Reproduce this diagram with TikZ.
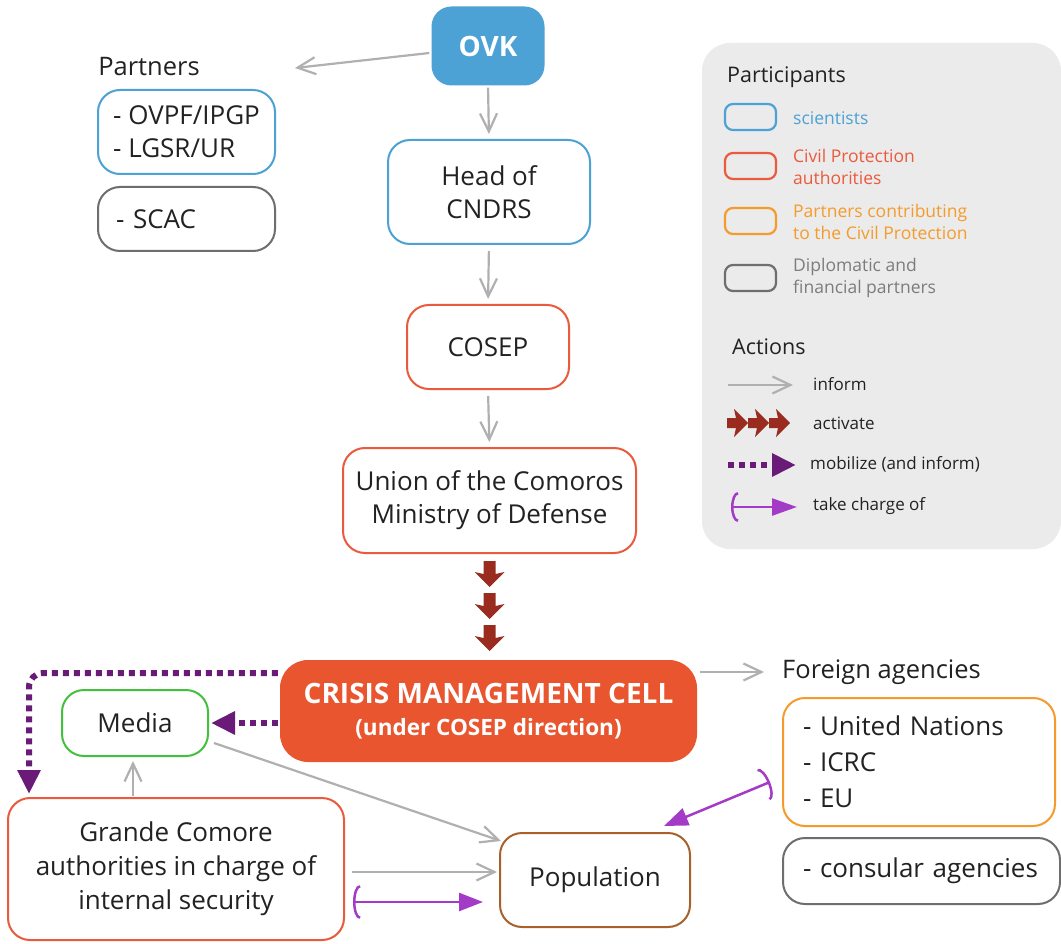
\documentclass[tikz,border=0pt]{standalone}
\usepackage{fontspec}
\setmainfont{Open Sans}
\usetikzlibrary{arrows.meta,calc}
\definecolor{cblue}{HTML}{4CA1D5}
\definecolor{cred}{HTML}{EA5A3C}
\definecolor{ccell}{HTML}{E8552F}
\definecolor{corange}{HTML}{F59B2B}
\definecolor{cgraybox}{HTML}{6E6E6E}
\definecolor{cgreen}{HTML}{44C040}
\definecolor{cbrown}{HTML}{A8612A}
\definecolor{cmob}{HTML}{6A1B77}
\definecolor{ctake}{HTML}{A43BC6}
\definecolor{cact}{HTML}{9A2B1F}
\definecolor{cinform}{HTML}{B0B0B0}
\definecolor{clegend}{HTML}{EBEBEB}
\definecolor{ctext}{HTML}{222222}
\newcommand{\fsz}[2]{\fontsize{#1}{#2}\selectfont}
\begin{document}
\begin{tikzpicture}[x=1pt,y=-1pt,
  box/.style={draw, line width=2pt, rounded corners=22pt, fill=white,
    align=center, inner sep=0pt, text=ctext, font=\fsz{26}{33}},
  listbox/.style={box, align=left, inner xsep=18pt, inner ysep=0pt},
  lgbox/.style={draw, line width=2.2pt, rounded corners=8pt,
    minimum width=51pt, minimum height=26pt, inner sep=0pt},
  lgtext/.style={anchor=west, align=left, font=\fsz{17.5}{22}, inner sep=0pt},
  acttext/.style={anchor=west, inner sep=0pt, text=ctext, font=\fsz{17}{20}},
  title/.style={anchor=west, inner sep=0pt, text=ctext},
  inform/.style={draw=cinform, line width=2.2pt,
    -{Straight Barb[length=18pt,width=17pt]}},
  mobilize/.style={draw=cmob, line width=6pt, dash pattern=on 6pt off 5pt,
    -{Triangle[length=24pt,width=22pt]}},
  takecharge/.style={draw=ctake, line width=2.5pt,
    {Arc Barb[length=7pt,width=34pt]}-{Triangle[length=24pt,width=18pt]}},
  actdown/.pic={\fill[cact] (-6,0)--(6,0)--(6,13)--(15,11)--(0,26)--(-15,11)--(-6,13)--cycle;},
  actright/.pic={\fill[cact] (0,-5)--(9,-5)--(7,-14)--(21,0)--(7,14)--(9,5)--(0,5)--cycle;}
]
\useasboundingbox (0,0) rectangle (1061,944);
\fill[white] (0,0) rectangle (1061,944);

% legend panel
\fill[clegend, rounded corners=28pt] (702,43) rectangle (1061,549);
\node[title, font=\fsz{21.5}{24}] (lgpart) at (727,77) {Participants};
\node[lgbox, draw=cblue]    (lgb1) at (750.5,117) {};
\node[lgbox, draw=cred]     (lgb2) at (750.5,166) {};
\node[lgbox, draw=corange]  (lgb3) at (750.5,221) {};
\node[lgbox, draw=cgraybox] (lgb4) at (750.5,278) {};
\node[lgtext, text=cblue]    (lgt1) at (793,118) {scientists};
\node[lgtext, text=cred]     (lgt2) at (793,166.5) {Civil Protection\\authorities};
\node[lgtext, text=corange]  (lgt3) at (793,222) {Partners contributing\\to the Civil Protection};
\node[lgtext, text=cgraybox!90] (lgt4) at (793,278) {Diplomatic and\\financial partners};
\node[title, font=\fsz{21.5}{24}] (lgact) at (732,347) {Actions};
\coordinate (li0) at (728,385);  \coordinate (li1) at (793,385);
\draw[inform] (li0) -- (li1);
\node[acttext] (lgti) at (813,384) {inform};
\pic at (727,423) {actright};
\pic at (748,423) {actright};
\pic at (769,423) {actright};
\node[acttext] (lgta) at (813,423) {activate};
\coordinate (lm0) at (728,465);  \coordinate (lm1) at (796,465);
\draw[mobilize] (lm0) -- (lm1);
\node[acttext] (lgtm) at (810,464) {mobilize (and inform)};
\coordinate (lt0) at (731,507);  \coordinate (lt1) at (797,507);
\draw[takecharge, {Arc Barb[length=7pt,width=30pt]}-{Triangle[length=25pt,width=17pt]}] (lt0) -- (lt1);
\node[acttext] (lgtt) at (813,506) {take charge of};

% main chain
\node[fill=cblue, rounded corners=20pt, minimum width=113pt, minimum height=79pt,
  inner sep=0pt, text=white, font=\bfseries\fsz{28}{30}] (ovk) at (488,46) {OVK};
\node[box, draw=cblue, minimum width=202pt, minimum height=104pt] (head) at (489,192) {Head of\\CNDRS};
\node[box, draw=cred, minimum width=162pt, minimum height=84pt] (cosep) at (488,347) {COSEP};
\node[box, draw=cred, minimum width=293pt, minimum height=105pt] (union) at (489.5,500.5)
  {Union of the Comoros\\Ministry of Defense};
\node[fill=ccell, rounded corners=28pt, minimum width=417pt, minimum height=102pt,
  inner sep=0pt, align=center, text=white, font=\bfseries\fsz{28}{32}] (cmc) at (488.5,711)
  {CRISIS MANAGEMENT CELL\\{\fsz{22.5}{24}(under COSEP direction)}};

% partners
\node[title, anchor=center, font=\fsz{25.5}{28}] (partlbl) at (149,67) {Partners};
\node[box, align=left, draw=cblue, minimum width=177pt, minimum height=84pt] (partbox) at (186.5,132)
  {- OVPF/IPGP\\- LGSR/UR};
\node[listbox, draw=cgraybox, text width=141pt, minimum height=64pt] (scac) at (186.5,219)
  {- SCAC};

% foreign agencies
\node[title, font=\fsz{25.5}{28}] (fa) at (782,672) {Foreign agencies};
\node[listbox, draw=corange, inner xsep=20pt, text width=232pt, minimum height=128pt,
  font=\fsz{26}{36}] (un) at (919,762) {- United Nations\\- ICRC\\- EU};
\node[listbox, draw=cgraybox, inner xsep=20pt, text width=237pt, minimum height=66pt]
  (cons) at (921.5,871) {- consular agencies};

% local actors
\node[box, draw=cgreen, minimum width=146pt, minimum height=66pt] (media) at (135,723) {Media};
\node[box, draw=cred, minimum width=336pt, minimum height=142pt, font=\fsz{26}{34}]
  (gc) at (176,869) {Grande Comore\\authorities in charge of\\internal security};
\node[box, draw=cbrown, minimum width=190pt, minimum height=94pt] (pop) at (595,880) {Population};

% inform connectors
\coordinate (partend) at (295,68);
\draw[inform] ($(ovk.west)+(-2,7)$) -- (partend);
\draw[inform, shorten <=2pt, shorten >=5pt] (ovk.south) -- (head.north);
\draw[inform, shorten <=6pt, shorten >=5pt] (head.south) -- (cosep.north);
\draw[inform, shorten <=6pt, shorten >=5pt] (cosep.south) -- (union.north);
\coordinate (faend) at (764,672);
\draw[inform] ($(cmc.east)+(3,-39)$) -- (faend);
\draw[inform] ($(gc.north)+(-43,-1)$) -- ($(media.south)+(-2,4)$);
\draw[inform] ($(media.east)+(5,20)$) -- ($(pop.north west)+(2,9)$);
\draw[inform] ($(gc.east)+(7,3)$) -- ($(pop.west)+(-2,-8)$);

% activation
\pic at (489.5,561) {actdown};
\pic at (489.5,593) {actdown};
\pic at (489.5,625) {actdown};

% mobilization
\draw[mobilize] ($(cmc.west)+(-2,12)$) -- ($(media.east)+(2,0)$);
\draw[mobilize, rounded corners=14pt] ($(cmc.west)+(-2,-38)$) -| ($(gc.north west)+(22,-3)$);

% taking charge
\draw[takecharge] ($(gc.east)+(8,33)$) -- ($(pop.west)+(-16,22)$);
\draw[takecharge] ($(un.west)+(-12,20)$) -- ($(pop.north east)+(-27,-6)$);
\end{tikzpicture}
\end{document}
